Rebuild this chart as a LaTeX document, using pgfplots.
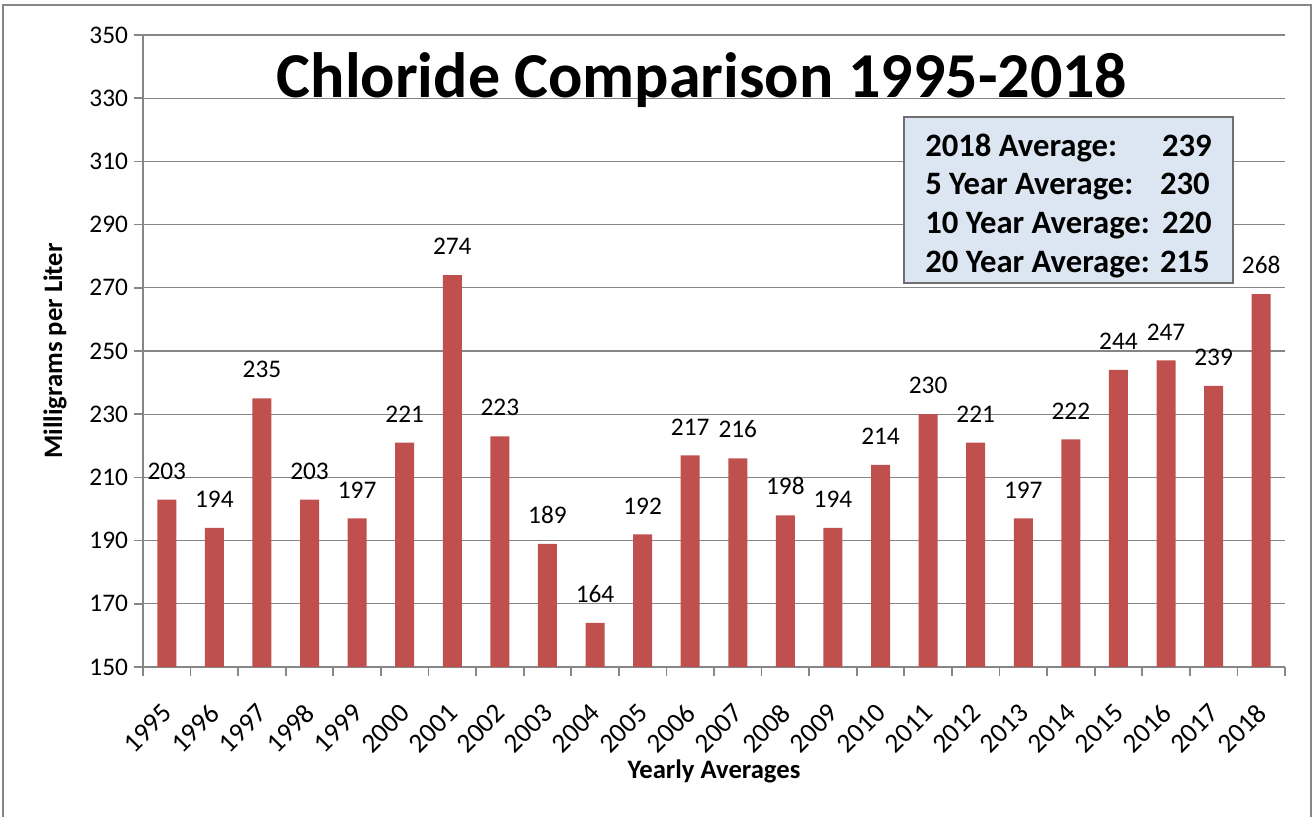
\documentclass[border=0pt]{standalone}
\usepackage{fontspec}
\setmainfont{Carlito}
\usepackage{pgfplots}
\pgfplotsset{compat=1.18}
\definecolor{barred}{HTML}{C0504D}
\definecolor{gridgray}{HTML}{868686}
\definecolor{boxfill}{HTML}{DCE6F2}
\definecolor{boxedge}{HTML}{6F6F6F}
\newcommand{\PX}[2]{({#1*0.75pt},{(817-#2)*0.75pt})}
\begin{document}
\begin{tikzpicture}
\useasboundingbox (0,0) rectangle (985.5pt,612.75pt);
\begin{axis}[
  at={(107.25pt,112.5pt)}, anchor=south west,
  width=856.5pt, height=474pt, scale only axis,
  xmin=-0.5, xmax=23.5, ymin=150, ymax=350,
  ybar, bar width=14.25pt,
  ytick={150,170,...,350},
  xtick={-0.5,0.5,...,23.5},
  xticklabels={1995,1996,1997,1998,1999,2000,2001,2002,2003,2004,2005,2006,2007,2008,2009,2010,2011,2012,2013,2014,2015,2016,2017,2018,{}},
  axis x line*=bottom, axis y line*=left,
  axis line style={gridgray, line width=1.3pt, -},
  tick style={gridgray, line width=1.3pt},
  major tick length=6.75pt,
  tick align=outside,
  ymajorgrids, grid style={gridgray, line width=1pt},
  /pgf/number format/assume math mode=true,
  yticklabel style={font=\fontsize{19pt}{22pt}\selectfont, xshift=-1pt},
  xticklabel style={font=\fontsize{20.5pt}{24pt}\selectfont, inner sep=0pt, xshift=18.3pt, yshift=-24.5pt, rotate=45, anchor=east},
  xlabel={\bfseries Yearly Averages},
  ylabel={\bfseries Milligrams per Liter},
  xlabel style={at={(axis description cs:0.5,-0.1646)}, anchor=center, font=\fontsize{20pt}{24pt}\selectfont},
  ylabel style={at={(axis description cs:-0.0771,0.5)}, anchor=center, font=\fontsize{20pt}{24pt}\selectfont},
  nodes near coords,
  every node near coord/.append style={font=\fontsize{19pt}{22pt}\selectfont, inner sep=0pt, anchor=south, yshift=15pt, text=black},
]
\addplot[fill=barred, draw=none] coordinates {
(0,203) (1,194) (2,235) (3,203) (4,197) (5,221) (6,274) (7,223)
(8,189) (9,164) (10,192) (11,217) (12,216) (13,198) (14,194) (15,214)
(16,230) (17,221) (18,197) (19,222) (20,244) (21,247) (22,239) (23,268)
};
\end{axis}
% outer frame
\draw[gridgray, line width=1.5pt] \PX{3}{820} -- \PX{3}{5} -- \PX{1311}{5} -- \PX{1311}{820};
% title
\node[anchor=base, font=\fontsize{48pt}{56pt}\selectfont\bfseries] at \PX{702}{98} {Chloride Comparison 1995-2018};
% summary box
\draw[boxedge, fill=boxfill, line width=1.2pt] \PX{904}{117} rectangle \PX{1233}{283};
\begin{scope}[every node/.style={inner sep=0pt, font=\fontsize{24.5pt}{28pt}\selectfont\bfseries}]
\node[anchor=base west] at \PX{925}{157} {2018 Average:};
\node[anchor=base east] at \PX{1212}{157} {239};
\node[anchor=base west] at \PX{925}{195} {5 Year Average:};
\node[anchor=base east] at \PX{1210}{195} {230};
\node[anchor=base west] at \PX{925}{234} {10 Year Average:};
\node[anchor=base east] at \PX{1212}{234} {220};
\node[anchor=base west] at \PX{925}{273} {20 Year Average:};
\node[anchor=base east] at \PX{1210}{273} {215};
\end{scope}
\end{tikzpicture}
\end{document}
